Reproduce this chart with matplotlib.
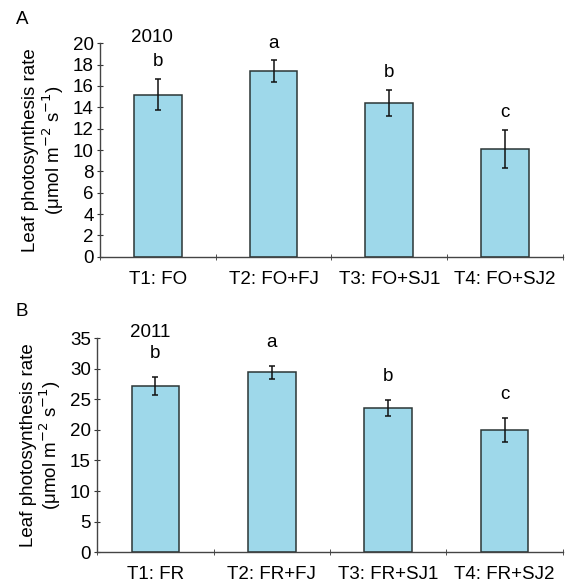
import numpy as np
import matplotlib
matplotlib.use("Agg")
import matplotlib.pyplot as plt

plt.rcParams['font.family'] = ['Liberation Sans', 'DejaVu Sans']

# Panel A (2010)
labels_a = ["T1: FO", "T2: FO+FJ", "T3: FO+SJ1", "T4: FO+SJ2"]
rate_a = [15.2, 17.4, 14.4, 10.1]
err_a = [1.45, 1.0, 1.25, 1.8]
letters_a = ["b", "a", "b", "c"]

# Panel B (2011)
labels_b = ["T1: FR", "T2: FR+FJ", "T3: FR+SJ1", "T4: FR+SJ2"]
rate_b = [27.2, 29.4, 23.6, 20.0]
err_b = [1.5, 1.1, 1.3, 1.9]
letters_b = ["b", "a", "b", "c"]

bar_color = "#9ed8ea"
edge_color = "#2b3535"
fs = 13.5


def draw_panel(ax, labels, vals, errs, letters, ymax, ystep, year, letter_pad):
    x = np.arange(len(labels))
    ax.bar(x, vals, width=0.41, color=bar_color, edgecolor=edge_color, linewidth=1.1, zorder=2)
    ax.errorbar(x, vals, yerr=errs, fmt='none', ecolor='#111111', elinewidth=1.1,
                capsize=2, capthick=1.1, zorder=3)
    for xi, v, e, l in zip(x, vals, errs, letters):
        ax.annotate(l, (xi, v + e), xytext=(0, letter_pad), textcoords='offset points',
                    ha='center', va='center', fontsize=fs)
    ax.set_xlim(-0.5, len(labels) - 0.5)
    ax.set_ylim(0, ymax)
    ax.set_yticks(np.arange(0, ymax + 0.1, ystep))
    ax.set_xticks(x)
    ax.set_xticklabels(labels, fontsize=fs)
    ax.set_xticks(np.arange(-0.5, len(labels)), minor=True)
    ax.tick_params(axis='x', which='major', length=0, pad=10)
    ax.tick_params(axis='x', which='minor', length=5, direction='inout', color='#333333')
    ax.tick_params(axis='y', labelsize=fs, length=5, direction='inout', color='#333333', pad=2)
    for s in ['top', 'right']:
        ax.spines[s].set_visible(False)
    for s in ['left', 'bottom']:
        ax.spines[s].set_color('#444444')
        ax.spines[s].set_linewidth(1.0)
    ax.set_ylabel("Leaf photosynthesis rate\n(\u03bcmol m$^{-2}$ s$^{-1}$)", fontsize=fs,
                  linespacing=1.05, labelpad=5)
    ax.annotate(year, (0, ymax), xytext=(-4, 4), textcoords='offset points',
                ha='center', va='center', fontsize=fs)


fig = plt.figure(figsize=(5.65, 5.85), dpi=100)
ax_a = fig.add_axes([0.177, 0.561, 0.819, 0.365])
ax_b = fig.add_axes([0.172, 0.056, 0.824, 0.366])

draw_panel(ax_a, labels_a, rate_a, errs=err_a, letters=letters_a, ymax=20, ystep=2,
           year="2010", letter_pad=12.5)
draw_panel(ax_b, labels_b, rate_b, errs=err_b, letters=letters_b, ymax=35, ystep=5,
           year="2011", letter_pad=17)

fig.text(0.039, 0.966, "A", fontsize=fs, ha='center', va='center')
fig.text(0.039, 0.468, "B", fontsize=fs, ha='center', va='center')

fig.savefig("out.png", dpi=100)
